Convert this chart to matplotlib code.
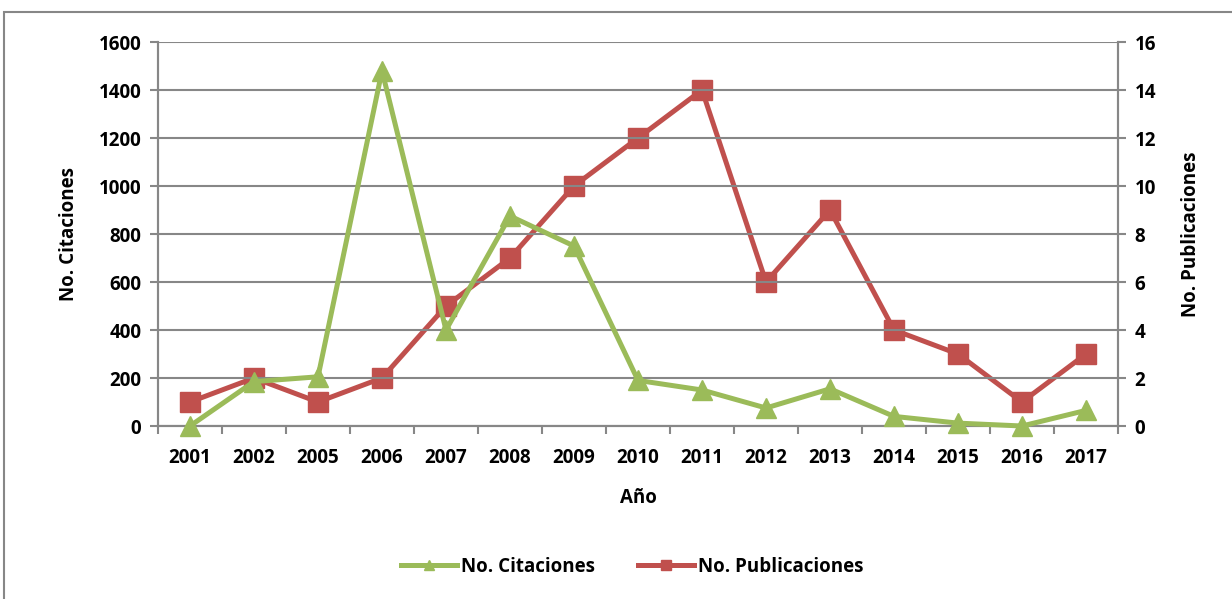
import matplotlib
matplotlib.use("Agg")
import matplotlib.pyplot as plt
from matplotlib.patches import Rectangle

# Citations and publications per year
years = ["2001", "2002", "2005", "2006", "2007", "2008", "2009", "2010",
         "2011", "2012", "2013", "2014", "2015", "2016", "2017"]
citaciones = [0, 185, 205, 1480, 400, 875, 750, 190, 150, 75, 155, 40, 12, 0, 65]
publicaciones = [1, 2, 1, 2, 5, 7, 10, 12, 14, 6, 9, 4, 3, 1, 3]

green = "#9BBB59"
red = "#C0504D"
grid_gray = "#878787"
fs = 13.5

plt.rcParams["font.family"] = ["Open Sans", "DejaVu Sans"]
plt.rcParams["font.weight"] = "bold"
plt.rcParams["axes.labelweight"] = "bold"

fig = plt.figure(figsize=(12.32, 5.99), dpi=100)
ax = fig.add_axes([158 / 1232, 1 - 426 / 599, 960 / 1232, 384 / 599])
ax2 = ax.twinx()

# outer chart frame (runs off the right/bottom edges)
fig.patches.append(Rectangle((4 / 1232, -0.2), 1.2, 1.2 - 12 / 599,
                             transform=fig.transFigure, fill=False,
                             edgecolor=grid_gray, linewidth=1.5))

x = list(range(len(years)))
l1, = ax.plot(x, citaciones, color=green, lw=3.6, marker="^", ms=14,
              label="No. Citaciones", zorder=3, clip_on=False)
l2, = ax2.plot(x, publicaciones, color=red, lw=3.6, marker="s", ms=14,
               label="No. Publicaciones", zorder=3, clip_on=False)

ax.set_xlim(-0.5, len(years) - 0.5)
ax.set_ylim(0, 1600)
ax2.set_ylim(0, 16)
ax.set_yticks(range(0, 1601, 200))
ax2.set_yticks(range(0, 17, 2))

ax.set_xticks(x)
ax.set_xticklabels(years)
ax.set_xticks([i - 0.5 for i in range(len(years) + 1)], minor=True)
ax.tick_params(axis="x", which="major", length=0, pad=16, labelsize=fs)
ax.tick_params(axis="x", which="minor", length=6, width=1.5, color=grid_gray)
ax.tick_params(axis="y", length=6, width=1.5, color=grid_gray, labelsize=fs, pad=6)
ax2.tick_params(axis="y", length=6, width=1.5, color=grid_gray, labelsize=fs, pad=6)
for lab in ax.get_xticklabels() + ax.get_yticklabels() + ax2.get_yticklabels():
    lab.set_fontweight("bold")

ax.grid(axis="y", color=grid_gray, lw=1.5)
ax.set_axisbelow(True)
for a in (ax, ax2):
    a.spines["top"].set_visible(False)
    for s in ("left", "right", "bottom"):
        a.spines[s].set_color(grid_gray)
        a.spines[s].set_linewidth(1.5)
ax.set_zorder(ax2.get_zorder() + 1)
ax.patch.set_visible(False)

ax.set_xlabel("Año", fontsize=fs, fontweight="bold", labelpad=14)
ax.set_ylabel("No. Citaciones", fontsize=fs, fontweight="bold", labelpad=14)
ax2.set_ylabel("No. Publicaciones", fontsize=fs, fontweight="bold", labelpad=18)

fig.legend([l1, l2], ["No. Citaciones", "No. Publicaciones"], loc="center",
           bbox_to_anchor=(632 / 1232, 1 - 567 / 599), ncol=2, frameon=False,
           prop={"size": fs, "weight": "bold"}, markerscale=0.55,
           handlelength=3.0, handletextpad=0.2, columnspacing=2.3)

fig.savefig("out.png", dpi=100)
